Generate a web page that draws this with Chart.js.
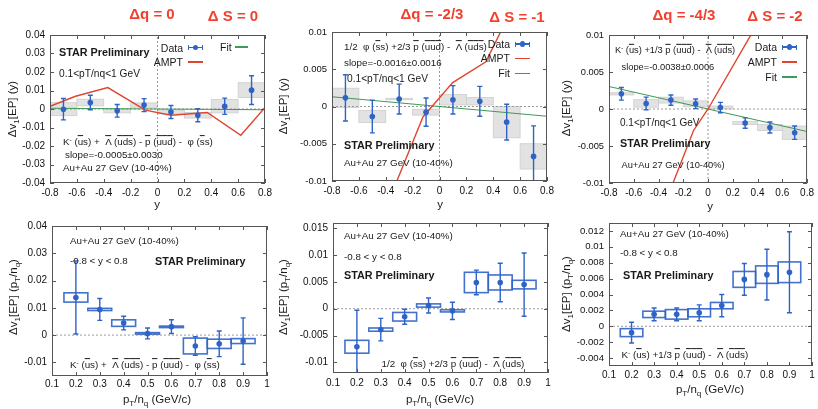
<!DOCTYPE html>
<html>
<head>
<meta charset="utf-8">
<script src="https://cdn.jsdelivr.net/npm/chart.js@4.4.1/dist/chart.umd.min.js"></script>
<style>
  body { margin: 0; background: #fff; }
  #fig { position: relative; width: 818px; height: 409px; overflow: hidden;
         font-family: "Liberation Sans", Arial, sans-serif; color: #1a1a1a; }
  #fig canvas { position: absolute; left: 0; top: 0; }
  .t { position: absolute; white-space: nowrap; font-size: 9.8px; line-height: 1; transform: translateY(-50%); }
  .tr { position: absolute; white-space: nowrap; font-size: 10.5px; line-height: 1; transform: translateY(-50%); text-align: right; }
  .b { font-weight: bold; font-size: 10.8px; }
  .sm { font-size: 9.3px; }
  .ob { text-decoration: overline; }
  sup { font-size: 65%; vertical-align: 0.45em; line-height: 0; }
  sub { font-size: 70%; vertical-align: -0.3em; line-height: 0; }
  .hd { position: absolute; color: #f2402e; font-weight: bold; font-size: 15px; white-space: nowrap;
        transform: translate(-50%, -50%); line-height: 1; }
  .yt { position: absolute; transform: translate(-50%, -50%) rotate(-90deg); font-size: 11.5px; white-space: nowrap; line-height: 1; }
  .xt { position: absolute; transform: translate(-50%, -50%); font-size: 11.5px; white-space: nowrap; line-height: 1; }
  .lg { position: absolute; }
</style>
</head>
<body>
<div id="fig"></div>
<script>
// bins
const yBins = [-0.7, -0.5, -0.3, -0.1, 0.1, 0.3, 0.5, 0.7];
const ptBins = [0.2, 0.3, 0.4, 0.5, 0.6, 0.7, 0.8, 0.9];
const yTickX = [-0.8, -0.6, -0.4, -0.2, 0, 0.2, 0.4, 0.6, 0.8];
const ptTickX = [0.1, 0.2, 0.3, 0.4, 0.5, 0.6, 0.7, 0.8, 0.9, 1];

// dq = 0, vs y
const dq0Val  = [-0.0001, 0.0035, -0.0010, 0.0021, -0.0016, -0.0034, 0.0015, 0.0102];
const dq0Stat = [0.0058, 0.0039, 0.0034, 0.0035, 0.0035, 0.0035, 0.0044, 0.0078];
const dq0Sys  = [0.0035, 0.0018, 0.0011, 0.0012, 0.0011, 0.0015, 0.0036, 0.0040];
const dq0AmptX = [-0.8, -0.61, -0.37, -0.09, 0.1, 0.37, 0.62, 0.8];
const dq0AmptY = [0.0015, 0.0069, 0.0116, -0.0006, -0.0034, -0.0019, -0.0142, 0.0008];
const dq0FitY = [0.0004, -0.0004];
const dq0TickY = [-0.04, -0.03, -0.02, -0.01, 0, 0.01, 0.02, 0.03, 0.04];

// dq = -2/3, vs y
const dq23Val  = [0.00116, -0.00134, 0.0010, -0.00076, 0.0009, 0.0007, -0.0021, -0.0067];
const dq23Stat = [0.0031, 0.0022, 0.0020, 0.0019, 0.0019, 0.0020, 0.0024, 0.0041];
const dq23Sys  = [0.0013, 0.0008, 0.0001, 0.0004, 0.0007, 0.0005, 0.0021, 0.0017];
const dq23AmptX = [-0.315, -0.123, 0.098, 0.345, 0.46];
const dq23AmptY = [-0.0099, -0.0014, 0.0032, 0.0060, 0.0102];
const dq23FitY = [0.0013, -0.0013];
const dq23TickY = [-0.01, -0.005, 0, 0.005, 0.01];

// dq = -4/3, vs y
const dq43Val  = [0.00205, 0.00075, 0.0012, 0.0007, 0.0002, -0.0019, -0.0025, -0.0032];
const dq43Stat = [0.00085, 0.00085, 0.0007, 0.00065, 0.0007, 0.0007, 0.00075, 0.0009];
const dq43Sys  = [0.00015, 0.0005, 0.0004, 0.0004, 0.0002, 0.0002, 0.0004, 0.0009];
const dq43AmptX = [-0.285, -0.117, 0.0, 0.36];
const dq43AmptY = [-0.0101, -0.0029, 0.0, 0.0104];
const dq43FitY = [0.00304, -0.00304];
const dq43TickY = [-0.01, -0.005, 0, 0.005, 0.01];

// dq = 0, vs pT/nq
const pt0Val  = [0.0138, 0.0094, 0.0044, 0.0006, 0.0031, -0.0040, -0.0032, -0.0022];
const pt0Stat = [0.0134, 0.0040, 0.0025, 0.0020, 0.0025, 0.0034, 0.0047, 0.0085];
const pt0Sys  = [0.0017, 0.0004, 0.0012, 0.0003, 0.0002, 0.0029, 0.0017, 0.0009];
const pt0TickY = [-0.01, 0, 0.01, 0.02, 0.03, 0.04];

// dq = -2/3, vs pT/nq
const pt23Val  = [-0.0071, -0.0039, -0.0015, 0.0006, -0.0004, 0.0049, 0.0049, 0.0045];
const pt23Stat = [0.0068, 0.0021, 0.0014, 0.0014, 0.0016, 0.0023, 0.0036, 0.0059];
const pt23Sys  = [0.0012, 0.0003, 0.0008, 0.0003, 0.0002, 0.0019, 0.0014, 0.0008];
const pt23TickY = [-0.01, -0.005, 0, 0.005, 0.01, 0.015];

// dq = -4/3, vs pT/nq
const pt43Val  = [-0.0008, 0.0015, 0.0015, 0.0017, 0.0026, 0.0059, 0.0065, 0.0068];
const pt43Stat = [0.0013, 0.0008, 0.0008, 0.0010, 0.0014, 0.0020, 0.0032, 0.0051];
const pt43Sys  = [0.0005, 0.0004, 0.0006, 0.0005, 0.0004, 0.0010, 0.0011, 0.0013];
const pt43TickY = [-0.004, -0.002, 0, 0.002, 0.004, 0.006, 0.008, 0.01, 0.012];

const BLUE = '#2e63c8', RED = '#e0452f', GREEN = '#3f9a55';
const FONT = '"Liberation Sans", Arial, sans-serif';
const YW = 40, XH = 20;
const fig = document.getElementById('fig');

// systematic boxes, error bars, frame and inner ticks
const errPlugin = {
  id: 'errs',
  beforeDatasetsDraw(chart, args, o) {
    const { ctx, chartArea: a, scales: { x, y } } = chart;
    ctx.save();
    ctx.beginPath(); ctx.rect(a.left, a.top, a.right - a.left, a.bottom - a.top); ctx.clip();
    o.xs.forEach((xv, i) => {
      const x0 = x.getPixelForValue(xv - o.hw), x1 = x.getPixelForValue(xv + o.hw);
      const y0 = y.getPixelForValue(o.ys[i] + o.sys[i]), y1 = y.getPixelForValue(o.ys[i] - o.sys[i]);
      if (o.gray) {
        ctx.fillStyle = '#e2e2e2';
        ctx.fillRect(x0, y0, x1 - x0, y1 - y0);
        ctx.strokeStyle = '#cdcdcd'; ctx.lineWidth = 0.8;
        ctx.strokeRect(x0, y0, x1 - x0, y1 - y0);
      } else {
        ctx.strokeStyle = 'rgba(46,99,200,0.9)'; ctx.lineWidth = 1.6;
        ctx.strokeRect(x0, y0, x1 - x0, Math.max(y1 - y0, 1.5));
      }
    });
    ctx.restore();
  },
  afterDatasetsDraw(chart, args, o) {
    const { ctx, chartArea: a, scales: { x, y } } = chart;
    ctx.save();
    ctx.beginPath(); ctx.rect(a.left, a.top, a.right - a.left, a.bottom - a.top); ctx.clip();
    ctx.strokeStyle = BLUE; ctx.lineWidth = 1.4;
    o.xs.forEach((xv, i) => {
      const px = x.getPixelForValue(xv);
      const yt = y.getPixelForValue(o.ys[i] + o.stat[i]), yb = y.getPixelForValue(o.ys[i] - o.stat[i]);
      ctx.beginPath();
      ctx.moveTo(px, yt); ctx.lineTo(px, yb);
      ctx.moveTo(px - 2.5, yt); ctx.lineTo(px + 2.5, yt);
      ctx.moveTo(px - 2.5, yb); ctx.lineTo(px + 2.5, yb);
      ctx.stroke();
    });
    ctx.restore();
    ctx.save();
    ctx.strokeStyle = '#555'; ctx.lineWidth = 1;
    ctx.strokeRect(a.left + 0.5, a.top + 0.5, a.right - a.left - 1, a.bottom - a.top - 1);
    ctx.beginPath();
    y.ticks.forEach(t => {
      const py = Math.round(y.getPixelForValue(t.value)) + 0.5;
      ctx.moveTo(a.left, py); ctx.lineTo(a.left + 4, py);
      ctx.moveTo(a.right, py); ctx.lineTo(a.right - 4, py);
    });
    x.ticks.forEach(t => {
      const px = Math.round(x.getPixelForValue(t.value)) + 0.5;
      ctx.moveTo(px, a.bottom); ctx.lineTo(px, a.bottom - 4);
      ctx.moveTo(px, a.top); ctx.lineTo(px, a.top + 4);
    });
    ctx.stroke();
    ctx.restore();
  }
};

function panel(p) {
  const cv = document.createElement('canvas');
  cv.width = 818; cv.height = 409;
  fig.appendChild(cv);
  const [L, T, R, B] = p.area;
  const pts = p.xs.map((v, i) => ({ x: v, y: p.ys[i] }));
  const datasets = [
    { data: pts, pointRadius: 2.8, pointBackgroundColor: BLUE, pointBorderWidth: 0, showLine: false }
  ];
  if (p.amptX) {
    datasets.push({ data: p.amptX.map((v, i) => ({ x: v, y: p.amptY[i] })), showLine: true,
      borderColor: RED, borderWidth: 1.4, pointRadius: 0 });
  }
  if (p.fitY) {
    datasets.push({ data: [{ x: p.xMin, y: p.fitY[0] }, { x: p.xMax, y: p.fitY[1] }], showLine: true,
      borderColor: GREEN, borderWidth: 1.1, pointRadius: 0 });
  }
  datasets.push({ data: [{ x: p.xMin, y: 0 }, { x: p.xMax, y: 0 }], showLine: true,
    borderColor: '#999', borderWidth: 1, borderDash: [2, 2], pointRadius: 0 });
  if (p.zeroX) {
    datasets.push({ data: [{ x: 0, y: p.yMin }, { x: 0, y: p.yMax }], showLine: true,
      borderColor: '#999', borderWidth: 1, borderDash: [2, 2], pointRadius: 0 });
  }
  new Chart(cv, {
    type: 'scatter',
    data: { datasets },
    options: {
      responsive: false, animation: false,
      layout: { padding: { left: L - YW, top: T, right: 818 - R, bottom: 409 - B - XH } },
      plugins: {
        legend: { display: false }, tooltip: { enabled: false },
        errs: { xs: p.xs, ys: p.ys, stat: p.stat, sys: p.sys, hw: p.hw, gray: p.gray }
      },
      scales: {
        x: {
          type: 'linear', min: p.xMin, max: p.xMax,
          afterFit: s => { s.height = XH; },
          afterBuildTicks: s => { s.ticks = p.xTicks.map(v => ({ value: v })); },
          ticks: { font: { family: FONT, size: 10 }, color: '#111', padding: p.xPad,
                   autoSkip: false, maxRotation: 0, callback: v => String(v) },
          grid: { display: false, drawTicks: false }, border: { display: false }
        },
        y: {
          type: 'linear', min: p.yMin, max: p.yMax,
          afterFit: s => { s.width = YW; },
          afterBuildTicks: s => { s.ticks = p.yTicks.map(v => ({ value: v })); },
          ticks: { font: { family: FONT, size: p.yFont }, color: '#111', padding: 5,
                   autoSkip: false, callback: v => String(v) },
          grid: { display: false, drawTicks: false }, border: { display: false }
        }
      }
    },
    plugins: [errPlugin]
  });
}

// top row
panel({ area: [50, 35, 265, 183], xMin: -0.8, xMax: 0.8, yMin: -0.04, yMax: 0.04,
  xTicks: yTickX, yTicks: dq0TickY, xs: yBins, ys: dq0Val, stat: dq0Stat, sys: dq0Sys,
  amptX: dq0AmptX, amptY: dq0AmptY, fitY: dq0FitY, hw: 0.1, gray: true, zeroX: true, xPad: 4, yFont: 10 });
panel({ area: [332, 32, 547, 181], xMin: -0.8, xMax: 0.8, yMin: -0.01, yMax: 0.01,
  xTicks: yTickX, yTicks: dq23TickY, xs: yBins, ys: dq23Val, stat: dq23Stat, sys: dq23Sys,
  amptX: dq23AmptX, amptY: dq23AmptY, fitY: dq23FitY, hw: 0.1, gray: true, zeroX: true, xPad: 4, yFont: 9.5 });
panel({ area: [609, 35, 810, 183], xMin: -0.8, xMax: 0.8, yMin: -0.01, yMax: 0.01,
  xTicks: yTickX, yTicks: dq43TickY, xs: yBins, ys: dq43Val, stat: dq43Stat, sys: dq43Sys,
  amptX: dq43AmptX, amptY: dq43AmptY, fitY: dq43FitY, hw: 0.1, gray: true, zeroX: true, xPad: 4, yFont: 9.3 });

// bottom row
panel({ area: [52, 226, 267, 376], xMin: 0.1, xMax: 1, yMin: -0.015, yMax: 0.04,
  xTicks: ptTickX, yTicks: pt0TickY, xs: ptBins, ys: pt0Val, stat: pt0Stat, sys: pt0Sys,
  hw: 0.05, gray: false, xPad: 2, yFont: 10 });
panel({ area: [333, 223, 548, 373], xMin: 0.1, xMax: 1, yMin: -0.012, yMax: 0.016,
  xTicks: ptTickX, yTicks: pt23TickY, xs: ptBins, ys: pt23Val, stat: pt23Stat, sys: pt23Sys,
  hw: 0.05, gray: false, xPad: 4, yFont: 10 });
panel({ area: [609, 223, 812, 366], xMin: 0.1, xMax: 1, yMin: -0.005, yMax: 0.013,
  xTicks: ptTickX, yTicks: pt43TickY, xs: ptBins, ys: pt43Val, stat: pt43Stat, sys: pt43Sys,
  hw: 0.05, gray: false, xPad: 3, yFont: 9.6 });

// text overlays
function txt(x, y, html, cls) {
  const d = document.createElement('div');
  d.className = cls || 't';
  d.style.left = x + 'px'; d.style.top = y + 'px';
  d.innerHTML = html;
  fig.appendChild(d);
  return d;
}
function txtR(xr, y, html) {
  const d = txt(0, y, html, 'tr');
  d.style.left = 'auto'; d.style.right = (818 - xr) + 'px';
}
function lgLine(x1, x2, y, color, marker) {
  const add = (l, t, w, h, extra) => {
    const d = document.createElement('div');
    d.className = 'lg';
    d.style.cssText += `left:${l}px;top:${t}px;width:${w}px;height:${h}px;background:${color};` + (extra || '');
    fig.appendChild(d);
  };
  add(x1, y - 0.7, x2 - x1, 1.4);
  if (marker) {
    add(x1, y - 2.5, 1.4, 5); add(x2 - 1.4, y - 2.5, 1.4, 5);
    add((x1 + x2) / 2 - 2.8, y - 2.8, 5.6, 5.6, 'border-radius:50%;');
  }
}

const ob = s => s.split('').map(c => `<span class="ob">${c}</span>`).join('');
const f1 = `K<sup>-</sup> (${ob('u')}s) + &nbsp;${ob('Λ')} (${ob('uds')}) - ${ob('p')} (${ob('uud')}) - &nbsp;φ (${ob('s')}s)`;
const f2 = `1/2 &nbsp;φ (${ob('s')}s) +2/3 ${ob('p')} (${ob('uud')}) - &nbsp;${ob('Λ')} (${ob('uds')})`;
const f3 = `K<sup>-</sup> (${ob('u')}s) +1/3 ${ob('p')} (${ob('uud')}) - &nbsp;${ob('Λ')} (${ob('uds')})`;
const au = 'Au+Au 27 GeV (10-40%)';
const star = '<span class="b">STAR Preliminary</span>';
const ptc = '0.1&lt;pT/nq&lt;1 GeV';
const yr = '-0.8 &lt; y &lt; 0.8';

// headers
txt(152, 13, 'Δq = 0', 'hd');
txt(233, 15, 'Δ S = 0', 'hd');
txt(432, 13, 'Δq = -2/3', 'hd');
txt(517, 16, 'Δ S = -1', 'hd');
txt(684, 14, 'Δq = -4/3', 'hd');
txt(775, 15, 'Δ S = -2', 'hd');

// panel 1
txt(59, 52, star);
txt(59, 74, `<span style="font-size:10.2px">${ptc}</span>`);
txt(63, 141.5, f1);
txt(65, 154.5, 'slope=-0.0005±0.0030');
txt(63, 168, au);
txtR(183, 47.5, 'Data'); lgLine(188, 203, 47.5, BLUE, true);
txt(220, 47, '<span style="font-size:10.5px">Fit</span>'); lgLine(235, 248, 47, GREEN);
txtR(183, 62, 'AMPT'); lgLine(188, 203, 62, RED);

// panel 2
txt(344, 46.5, f2);
txt(344, 63.3, 'slope=-0.0016±0.0016');
txt(347, 79.3, `<span style="font-size:10.2px">${ptc}</span>`);
txt(344, 145, star);
txt(344, 163.3, au);
txtR(510, 44, 'Data'); lgLine(515, 530, 44, BLUE, true);
txtR(510, 58.3, 'AMPT'); lgLine(515, 530, 58.3, RED);
txtR(510, 73.3, 'Fit'); lgLine(515, 530, 73.3, GREEN);

// panel 3
txt(615, 50, `<span class="sm">${f3}</span>`);
txt(621.5, 67.3, '<span class="sm">slope=-0.0038±0.0006</span>');
txt(620, 123.3, `<span style="font-size:10px">${ptc}</span>`);
txt(620, 142.7, star);
txt(621.5, 165, `<span class="sm">${au}</span>`);
txtR(777, 47, 'Data'); lgLine(782, 797, 47, BLUE, true);
txtR(777, 62, 'AMPT'); lgLine(782, 797, 62, RED);
txtR(777, 77, 'Fit'); lgLine(782, 797, 77, GREEN);

// panel 4
txt(70, 240.7, au);
txt(70, 260.7, yr);
txt(155, 260.7, star);
txt(70, 365, f1);

// panel 5
txt(344, 236, au);
txt(344, 256.7, yr);
txt(344, 275, star);
txt(381.5, 364, f2);

// panel 6
txt(620, 234.3, au);
txt(620, 253.3, yr);
txt(623, 275.3, star);
txt(621.5, 355, f3);

// axis titles
const ytY = 'Δv<sub>1</sub>[EP] (y)';
const ytPt = 'Δv<sub>1</sub>[EP] (p<sub>T</sub>/n<sub>q</sub>)';
const xtPt = 'p<sub>T</sub>/n<sub>q</sub> (GeV/c)';
txt(13, 109, ytY, 'yt');
txt(283.5, 106, ytY, 'yt');
txt(566.5, 108, ytY, 'yt');
txt(157, 205, 'y', 'xt');
txt(440, 205, 'y', 'xt');
txt(710, 207, 'y', 'xt');
txt(13.5, 297, ytPt, 'yt');
txt(283.5, 297, ytPt, 'yt');
txt(566.5, 293.5, ytPt, 'yt');
txt(157, 400, xtPt, 'xt');
txt(440, 400, xtPt, 'xt');
txt(710, 390, xtPt, 'xt');
</script>
</body>
</html>
